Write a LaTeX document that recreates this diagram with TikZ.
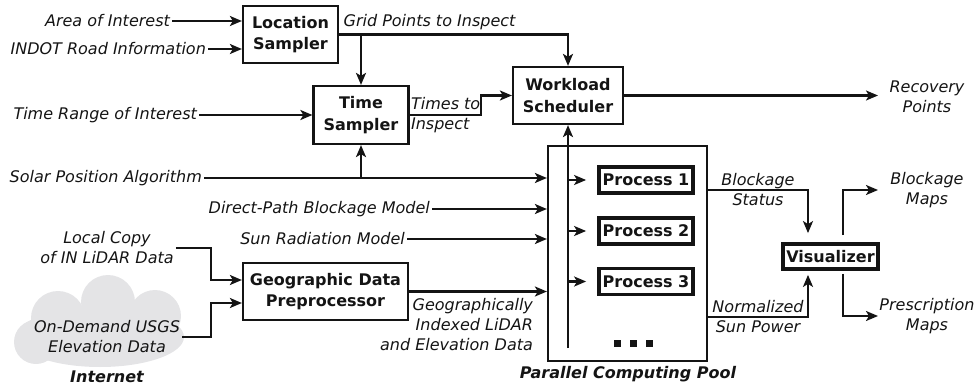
\documentclass[tikz,border=0pt]{standalone}
\usepackage{fontspec}
\setmainfont{DejaVu Sans}
\usetikzlibrary{arrows.meta,calc}
\definecolor{cloudgray}{RGB}{228,228,230}
\definecolor{ink}{RGB}{20,20,20}
\begin{document}
\begin{tikzpicture}[x=1pt,y=-1pt,
  font=\fontsize{16}{20}\selectfont, line width=2.2pt, draw=ink, text=ink,
  >={Stealth[length=12pt,width=10pt,inset=3pt]},
  arr/.style={->, line width=2.2pt, draw=ink},
  box/.style={draw=ink, line width=2.2pt, font=\fontsize{16}{21.5}\selectfont\bfseries, align=center, inner sep=0pt},
  pbox/.style={draw=ink, line width=3.8pt, font=\fontsize{16}{20}\selectfont\bfseries, inner sep=0pt},
  lbl/.style={font=\fontsize{16}{20}\selectfont\itshape, inner sep=1pt},
  dot/.style={fill=ink, minimum size=7pt, inner sep=0pt}]
\useasboundingbox (0,0) rectangle (975,388);

% cloud
\fill[cloudgray] (100,337) ellipse [x radius=84, y radius=30];
\fill[cloudgray] (58,318) circle [radius=27];
\fill[cloudgray] (108,302) circle [radius=27];
\fill[cloudgray] (155,316) circle [radius=26];
\fill[cloudgray] (36,342) circle [radius=22];

% boxes
\node[box, minimum width=95pt, minimum height=57pt] (loc) at (290.5,34.5) {Location\\Sampler};
\node[box, minimum width=95pt, minimum height=58pt] (time) at (361,115) {Time\\Sampler};
\node[box, minimum width=110pt, minimum height=57pt] (work) at (568,95.5) {Workload\\Scheduler};
\node[box, minimum width=165pt, minimum height=57pt] (geo) at (325.5,291.5) {Geographic Data\\Preprocessor};
\node[draw=ink, line width=2.2pt, minimum width=159pt, minimum height=215pt] (pool) at (627.5,253.5) {};
\node[pbox, minimum width=94pt, minimum height=26pt] (p1) at (646,180) {Process 1};
\node[pbox, minimum width=94pt, minimum height=26pt] (p2) at (646,231) {Process 2};
\node[pbox, minimum width=94pt, minimum height=26pt] (p3) at (646,281.5) {Process 3};
\node[pbox, minimum width=95pt, minimum height=25pt] (vis) at (830.5,256.5) {Visualizer};
\node[dot] (d1) at (617,343) {};
\node[dot] (d2) at (633,343) {};
\node[dot] (d3) at (649,343) {};

% labels
\node[lbl, anchor=east] (aoi) at (172,21) {Area of Interest};
\node[lbl, anchor=east] (indot) at (208,49) {INDOT Road Information};
\node[lbl, anchor=east] (trange) at (199,115) {Time Range of Interest};
\node[lbl, anchor=east] (solar) at (204,178) {Solar Position Algorithm};
\node[lbl, anchor=east] (dpb) at (432,209) {Direct-Path Blockage Model};
\node[lbl, anchor=east] (srm) at (407,239) {Sun Radiation Model};
\node[lbl, align=center] (local) at (107,248) {Local Copy\\of IN LiDAR Data};
\node[lbl, align=center] (usgs) at (107,337) {On-Demand USGS\\Elevation Data};
\node[lbl, font=\fontsize{16}{20}\selectfont\bfseries\itshape] (inet) at (107,377) {Internet};
\node[lbl] (grid) at (429.5,22) {Grid Points to Inspect};
\node[lbl, align=left, anchor=west] (tti) at (409,115) {Times to\\Inspect};
\node[lbl, align=center] (rec) at (927,97) {Recovery\\Points};
\node[lbl, align=center] (bstat) at (758,190) {Blockage\\Status};
\node[lbl, align=center] (nsp) at (758,317) {Normalized\\Sun Power};
\node[lbl, align=center] (bmaps) at (927,190) {Blockage\\Maps};
\node[lbl, align=center] (pmaps) at (927,316) {Prescription\\Maps};
\node[lbl, align=right, anchor=east] (geoidx) at (535,325) {Geographically\\Indexed LiDAR\\and Elevation Data};
\node[lbl, font=\fontsize{16}{20}\selectfont\bfseries\itshape] (pcp) at (628,374) {Parallel Computing Pool};

% helper coordinates
\coordinate (tt) at (481,0);
\coordinate (jx) at (211,0);
\coordinate (bx) at (808,0);
\coordinate (vx) at (843,0);
\coordinate (outx) at (878,0);
\coordinate (busbot) at (568,348);

% connectors
\draw[arr] (aoi.east) -- (aoi.east -| loc.west);
\draw[arr] (indot.east) -- (indot.east -| loc.west);
\draw[arr] (loc.east) -| (work.north);
\draw[arr] (loc.east -| time.north) -- (time.north);
\draw[arr] (trange.east) -- (trange.east -| time.west);
\draw[arr] (time.east) -- (time.east -| tt) |- (work.west);
\draw[arr] (work.east) -- (work.east -| outx);
\draw[arr] (solar.east) -- (solar.east -| pool.west);
\draw[arr] (solar.east -| time.south) -- (time.south);
\draw[arr] (dpb.east) -- (dpb.east -| pool.west);
\draw[arr] (srm.east) -- (srm.east -| pool.west);
\draw[arr] (geo.east) -- (geo.east -| pool.west);
\draw[arr] (local.east) -- (local.east -| jx) |- ($(geo.west)+(0,-11.5)$);
\draw[arr] (usgs.east) -- (usgs.east -| jx) |- ($(geo.west)+(0,11.5)$);
\draw[arr] (busbot) -- (work.south);
\draw[arr, shorten >=11pt] (p1.west -| busbot) -- (p1.west);
\draw[arr, shorten >=11pt] (p2.west -| busbot) -- (p2.west);
\draw[arr, shorten >=11pt] (p3.west -| busbot) -- (p3.west);
\draw[arr, shorten >=9pt] ($(pool.north east)+(0,45)$) -| (vis.north -| bx);
\draw[arr, shorten >=4pt] ($(pool.south east)+(0,-45)$) -| (vis.south -| bx);
\draw[arr, shorten <=7pt] (vis.north -| vx) |- (bmaps.west -| outx);
\draw[arr, shorten <=3pt] (vis.south -| vx) |- (pmaps.west -| outx);
\end{tikzpicture}
\end{document}
